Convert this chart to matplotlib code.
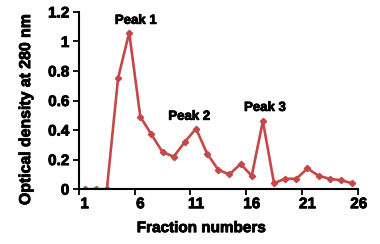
import numpy as np
import matplotlib
matplotlib.use('Agg')
import matplotlib.pyplot as plt
import matplotlib.patheffects as pe

# Fraction data
fractions = list(range(1, 26))
od280 = [0, 0, 0, 0.75, 1.06, 0.49, 0.37, 0.25, 0.22, 0.32,
         0.41, 0.24, 0.13, 0.10, 0.17, 0.09, 0.46, 0.04, 0.07, 0.07,
         0.14, 0.09, 0.07, 0.06, 0.04]
x_labels = ['1', '6', '11', '16', '21', '26']
x_label_pos = [1, 6, 11, 16, 21, 25.6]
peak_names = ['Peak 1', 'Peak 2', 'Peak 3']
peak_pos = [(5.6, 1.14), (10.4, 0.49), (17.2, 0.55)]

plt.rcParams['font.family'] = ['Liberation Sans', 'DejaVu Sans']
plt.rcParams['font.weight'] = 'bold'

# thicker glyphs, closer to the heavy Excel font
heavy = [pe.withStroke(linewidth=0.6, foreground='black')]

fig = plt.figure(figsize=(3.8, 2.44), dpi=100)
ax = fig.add_axes([0.208, 0.225, 0.733, 0.726])

ax.plot(fractions, od280, color='#C44848', lw=1.9, marker='D', ms=3.2,
        mec='#C44848', mfc='#C44848')

ax.set_xlim(0.5, 25.5)
ax.set_ylim(0, 1.2)
ax.set_yticks(np.arange(0, 1.21, 0.2))
ax.set_yticklabels(['0', '0.2', '0.4', '0.6', '0.8', '1', '1.2'])

# tick marks sit between categories, labels at category centres
ax.set_xticks(np.arange(0.5, 25.6, 5))
ax.set_xticklabels([])
ax.tick_params(axis='x', length=4, width=1.3, direction='out')
ax.tick_params(axis='y', length=4, width=1.3, direction='out', pad=3,
               labelsize=11)
for t in ax.get_yticklabels():
    t.set_path_effects(heavy)
for pos, lab in zip(x_label_pos, x_labels):
    ax.text(pos, -0.055, lab, ha='center', va='top', fontsize=11,
            fontweight='bold', transform=ax.transData, clip_on=False,
            path_effects=heavy)

for name, (px, py) in zip(peak_names, peak_pos):
    ax.text(px, py, name, ha='center', va='center', fontsize=9.5,
            fontweight='bold', path_effects=heavy)

ax.spines['top'].set_visible(False)
ax.spines['right'].set_visible(False)
ax.spines['left'].set_linewidth(1.5)
ax.spines['bottom'].set_linewidth(1.5)

yl = ax.set_ylabel('Optical density at 280 nm', fontsize=11.4,
                   fontweight='bold')
yl.set_path_effects(heavy)
ax.yaxis.set_label_coords(-0.165, 0.45)
fig.text(0.53, 0.065, 'Fraction numbers', ha='center', va='center',
         fontsize=11, fontweight='bold', path_effects=heavy)

fig.savefig('out.png', dpi=100)
